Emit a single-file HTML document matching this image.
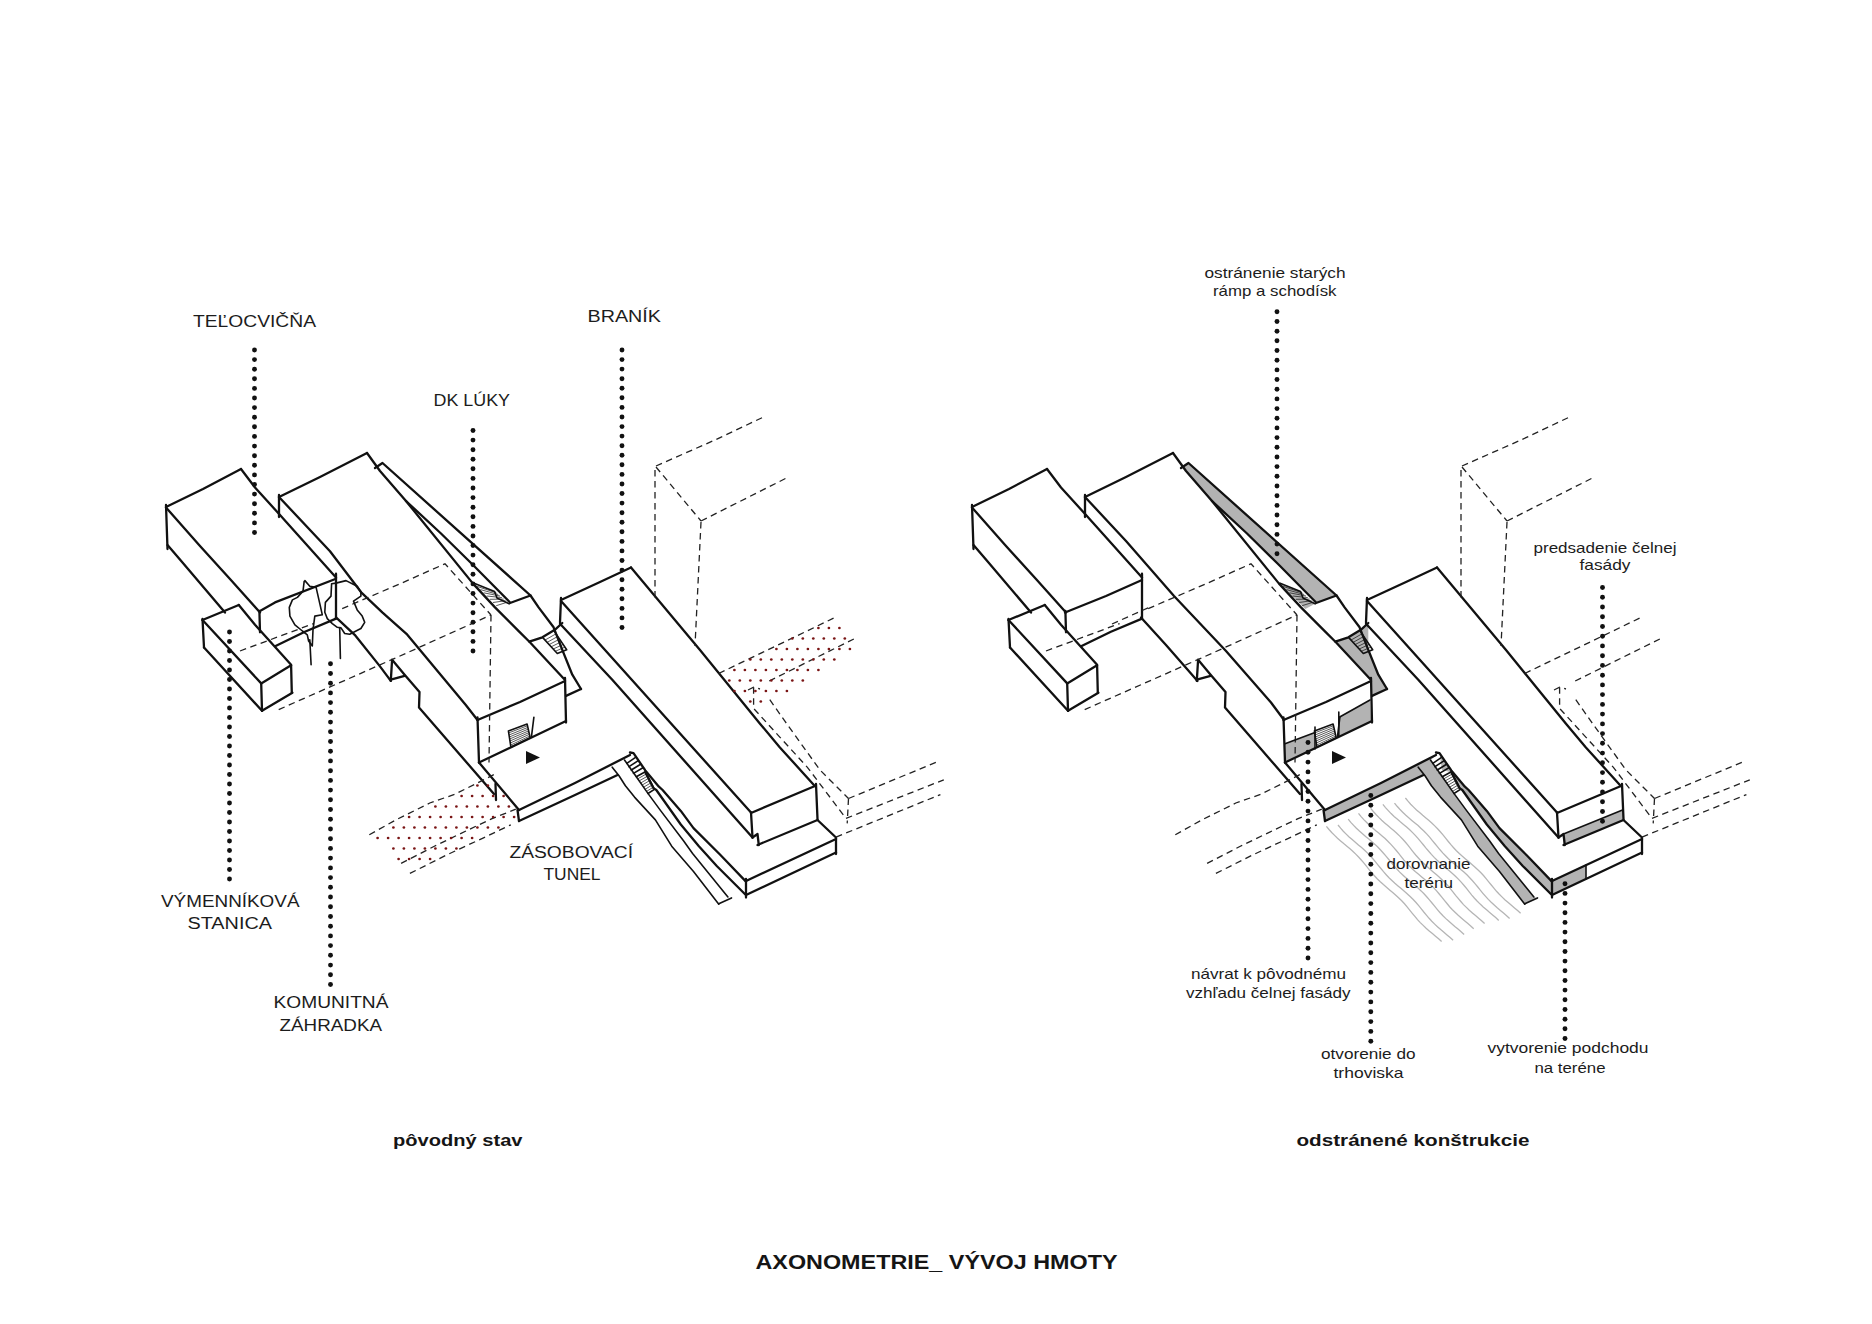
<!DOCTYPE html>
<html><head><meta charset="utf-8"><style>
html,body{margin:0;padding:0;background:#fff;}
body{width:1872px;height:1324px;overflow:hidden;}
svg{display:block;}
.s{fill:none;stroke:#111;stroke-width:2.3;stroke-linecap:round;stroke-linejoin:round;}
.s2{fill:none;stroke:#111;stroke-width:1.6;stroke-linecap:round;stroke-linejoin:round;}
.dsh{fill:none;stroke:#222;stroke-width:1.3;stroke-dasharray:6.5 4.5;}
.h{fill:none;stroke:#111;stroke-width:0.7;}
.g{fill:#b3b3b3;stroke:none;}
.wv{fill:none;stroke:#b5b5b5;stroke-width:1.3;}
.d circle{fill:#111;}
.rd circle{fill:#7a1515;}
.t{font-family:"Liberation Sans",sans-serif;fill:#1c1c1c;}
.tb{font-family:"Liberation Sans",sans-serif;font-weight:bold;fill:#151515;}
.tri{fill:#111;}
</style></head><body>
<svg width="1872" height="1324" viewBox="0 0 1872 1324">
<polyline class="s" points="166.0,507.0 203.0,489.0 241.0,469.0"/>
<polyline class="s" points="241.0,469.0 255.0,487.5 280.0,515.0 336.0,577.5"/>
<polyline class="s" points="166.0,505.0 167.5,549.0"/>
<polyline class="s" points="166.0,507.5 200.0,546.0 230.0,579.0 260.0,612.5"/>
<polyline class="s" points="167.5,545.0 182.5,562.5 225.0,612.5"/>
<polyline class="s" points="260.0,611.0 275.0,602.4 336.0,578.7"/>
<polyline class="s" points="336.0,573.7 336.0,618.6"/>
<polyline class="s" points="259.4,611.0 260.0,632.3"/>
<polyline class="s" points="275.6,646.0 304.9,631.7 336.0,618.6"/>
<polyline class="s" points="202.5,620.0 238.8,605.0"/>
<polyline class="s" points="238.8,605.0 255.0,624.8 291.1,664.7"/>
<polyline class="s" points="202.5,619.0 204.0,647.5"/>
<polyline class="s" points="202.5,620.0 261.2,683.4"/>
<polyline class="s" points="204.0,647.5 262.0,710.8"/>
<polyline class="s" points="261.2,683.4 262.0,710.8"/>
<polyline class="s" points="261.2,683.4 291.1,665.3"/>
<polyline class="s" points="291.1,665.3 291.8,692.7"/>
<polyline class="s" points="262.0,710.8 292.4,692.7"/>
<polyline class="s" points="279.0,497.0 320.0,477.0 367.0,453.0"/>
<polyline class="s" points="279.0,495.0 279.0,517.0"/>
<polyline class="s" points="279.0,497.0 330.0,551.2 361.2,592.3 382.3,612.3 407.3,634.7 465.8,705.0 477.5,720.0"/>
<polyline class="s" points="336.0,617.3 354.7,634.8 379.6,665.9 390.8,680.9"/>
<polyline class="s" points="390.8,680.9 392.1,659.7 404.6,674.7 419.5,692.1 419.0,707.5 494.0,794.0"/>
<polyline class="s" points="495.5,784.0 496.0,800.0"/>
<polyline class="s" points="390.8,679.6 404.6,675.9"/>
<polyline class="s" points="367.0,453.0 380.0,471.0 406.0,501.0 472.8,583.4 495.0,607.4 518.7,631.1 529.9,642.3 564.8,679.7"/>
<polyline class="s" points="375.0,468.0 382.5,463.0 530.5,595.5 538.6,607.4 553.6,627.3 562.3,649.8 572.3,674.7 581.0,689.0"/>
<polyline class="s" points="406.0,501.0 441.0,533.5 472.8,564.7 509.6,602.0"/>
<polyline class="s" points="510.0,603.0 530.5,595.5"/>
<polyline class="s" points="529.3,641.7 542.4,637.3 554.8,629.8 562.3,623.0"/>
<polyline class="s" points="566.0,695.9 581.0,689.0"/>
<polyline class="s" points="477.5,720.0 520.0,702.0 565.0,681.0"/>
<polyline class="s" points="477.5,717.5 479.0,762.5"/>
<polyline class="s" points="565.0,678.0 566.0,722.5"/>
<polyline class="s" points="479.0,762.5 520.0,743.0 566.0,721.0"/>
<polyline class="s2" points="510.9,747.1 508.4,730.9 527.1,724.0 530.2,737.7 510.9,747.1"/>
<polyline class="s2" points="533.9,717.2 531.4,737.1"/>
<path class="h" d="M508.7 732.9L527.5 725.7M509.0 735.0L527.9 727.4M509.3 737.0L528.3 729.1M509.6 739.0L528.7 730.9M510.0 741.0L529.0 732.6M510.3 743.0L529.4 734.3M510.6 745.1L529.8 736.0"/>
<polygon class="tri" points="526.0,751.0 526.0,764.0 540.0,757.5"/>
<polyline class="s" points="479.0,762.5 519.0,810.0"/>
<polyline class="s" points="519.0,810.0 575.0,783.0 630.0,755.0"/>
<polyline class="s" points="519.0,821.0 575.0,795.0 617.5,775.0"/>
<polyline class="s" points="517.5,810.0 519.0,821.0"/>
<path class="h" d="M477.2 586.4L496.4 592.9M480.4 589.6L498.2 594.5M483.6 592.8L500.0 596.0M486.7 596.0L501.9 597.6M489.9 599.3L503.7 599.1M493.0 602.5L505.5 600.7M496.2 605.7L507.3 602.2"/>
<polyline class="s2" points="474.1,583.2 494.6,591.4 497.0,598.0 509.1,603.8"/>
<path class="h" d="M545.0 640.1L556.0 633.8M547.1 642.4L557.8 636.4M549.1 644.6L559.6 639.1M551.2 646.8L561.3 641.8M553.2 649.0L563.1 644.5M555.3 651.3L564.9 647.1"/>
<polyline class="s2" points="543.0,637.9 557.3,653.5 566.7,649.8 554.2,631.1"/>
<polyline class="s" points="561.0,600.0 600.0,582.0 631.0,567.5"/>
<polyline class="s" points="561.0,598.0 560.0,622.5"/>
<polyline class="s" points="631.0,567.5 700.0,650.0 760.0,723.7 779.9,747.4 814.8,786.0"/>
<polyline class="s" points="561.0,601.0 751.0,812.5"/>
<polyline class="s" points="560.0,623.8 612.5,680.0 752.5,837.5"/>
<polyline class="s" points="751.0,813.0 815.0,786.0"/>
<polyline class="s" points="751.0,812.5 752.5,837.5"/>
<polyline class="s" points="816.0,784.0 817.5,819.0"/>
<polyline class="s" points="757.5,845.0 817.5,820.0"/>
<polyline class="s" points="752.5,837.5 757.5,834.0 758.8,845.0"/>
<polyline class="s" points="817.5,820.0 836.0,837.5 836.0,854.0"/>
<polyline class="s" points="746.0,881.0 836.0,839.0"/>
<polyline class="s" points="746.0,895.0 836.0,852.5"/>
<polyline class="s" points="746.0,879.0 746.0,897.5"/>
<polyline class="s" points="630.0,752.5 633.5,753.2 645.3,770.4 658.9,786.7 662.6,790.0 680.8,810.9 693.5,828.1 720.7,855.3 746.0,881.6"/>
<polyline class="s2" points="612.2,767.2 619.0,775.8 625.4,785.8 634.5,797.1 655.4,819.9 671.7,846.2 693.5,871.6 718.8,904.2"/>
<polyline class="s2" points="624.5,760.0 636.3,776.7 648.1,793.6 660.8,810.9 683.5,840.8 692.6,853.5 727.9,897.0"/>
<polyline class="s2" points="718.8,903.8 731.5,897.9"/>
<polyline class="s" points="645.3,772.2 653.5,788.1 656.3,790.0 680.8,824.5 698.9,846.2 717.0,866.2 745.1,894.3"/>
<path class="s2" d="M626.8 763.3L635.9 757.1M629.0 766.7L638.2 760.7M631.3 770.0L640.6 764.2M633.5 773.4L642.9 767.8"/>
<path class="h" d="M637.8 778.8L646.4 773.9M639.2 780.9L647.6 776.1M640.7 783.0L648.7 778.3M642.1 785.1L649.8 780.5M643.6 787.2L651.0 782.8M645.1 789.3L652.1 785.0M646.5 791.4L653.3 787.2"/>
<polyline class="s2" points="636.3,776.7 645.3,771.7 654.4,789.4 648.0,793.5"/>
<polyline class="dsh" points="240.0,651.0 313.6,623.6"/>
<polyline class="dsh" points="342.2,608.6 400.0,583.8 445.0,563.8 491.0,615.0"/>
<polyline class="dsh" points="278.7,709.6 400.0,656.0 491.0,615.0"/>
<polyline class="dsh" points="491.0,615.0 489.0,762.5"/>
<polyline class="dsh" points="656.0,466.0 715.0,440.0 762.5,417.5"/>
<polyline class="dsh" points="656.0,467.0 701.0,521.0"/>
<polyline class="dsh" points="701.0,521.0 787.5,477.5"/>
<polyline class="dsh" points="655.0,470.0 655.0,600.0"/>
<polyline class="dsh" points="701.0,522.0 695.0,646.0"/>
<polyline class="dsh" points="718.7,673.5 835.2,617.4"/>
<polyline class="dsh" points="769.2,681.0 855.8,638.0"/>
<polyline class="dsh" points="748.0,690.0 753.6,687.2 760.0,689.0"/>
<polyline class="dsh" points="753.6,687.2 753.6,708.4 779.8,737.1 807.4,767.3 846.0,818.4"/>
<polyline class="dsh" points="769.8,699.7 784.7,720.9 819.8,769.8 848.5,798.5"/>
<polyline class="dsh" points="848.5,798.5 938.5,761.3"/>
<polyline class="dsh" points="848.5,798.5 847.2,823.4"/>
<polyline class="dsh" points="846.0,818.4 943.8,779.8"/>
<polyline class="dsh" points="836.0,837.1 940.4,794.6"/>
<polyline class="dsh" points="369.3,834.8 396.1,819.8 429.8,803.0 454.7,794.3 490.9,776.2 497.0,773.0"/>
<polyline class="dsh" points="401.1,863.4 434.8,846.0 468.4,829.8 492.1,818.6 515.8,809.2"/>
<polyline class="dsh" points="409.9,873.4 447.2,854.7 484.6,837.3 510.8,824.8"/>
<polyline class="s2" points="304.2,581.2 303.0,591.2 297.4,597.4 292.4,599.9 289.3,607.4 289.9,616.1 294.9,624.8 302.4,631.0 307.3,634.8 308.6,641.0 312.3,646.0 313.0,629.8 314.8,616.1 322.3,614.8 319.8,603.6 316.1,587.4 309.8,586.2 304.9,580.6"/>
<polyline class="s2" points="309.8,639.8 311.1,664.7"/>
<polyline class="s2" points="331.6,583.7 331.0,596.1 325.4,602.4 324.8,612.3 327.3,618.6 332.3,623.6 337.3,627.3 341.0,627.9 344.7,633.5 349.7,634.2 360.9,628.5 364.7,622.3 362.2,616.1 357.2,609.9 353.5,601.1 360.9,596.1 360.9,592.4 357.2,586.2 346.0,580.6 336.0,583.1 331.6,583.7"/>
<polyline class="s2" points="339.7,627.9 340.4,658.5"/>
<g class="rd"><circle cx="818.4" cy="628.0" r="1.35"/><circle cx="828.9" cy="628.0" r="1.35"/><circle cx="839.4" cy="628.0" r="1.35"/><circle cx="792.3" cy="638.5" r="1.35"/><circle cx="802.8" cy="638.5" r="1.35"/><circle cx="813.3" cy="638.5" r="1.35"/><circle cx="823.8" cy="638.5" r="1.35"/><circle cx="834.3" cy="638.5" r="1.35"/><circle cx="844.8" cy="638.5" r="1.35"/><circle cx="776.4" cy="649.0" r="1.35"/><circle cx="786.9" cy="649.0" r="1.35"/><circle cx="797.4" cy="649.0" r="1.35"/><circle cx="807.9" cy="649.0" r="1.35"/><circle cx="818.4" cy="649.0" r="1.35"/><circle cx="828.9" cy="649.0" r="1.35"/><circle cx="839.4" cy="649.0" r="1.35"/><circle cx="849.9" cy="649.0" r="1.35"/><circle cx="750.3" cy="659.5" r="1.35"/><circle cx="760.8" cy="659.5" r="1.35"/><circle cx="771.3" cy="659.5" r="1.35"/><circle cx="781.8" cy="659.5" r="1.35"/><circle cx="792.3" cy="659.5" r="1.35"/><circle cx="802.8" cy="659.5" r="1.35"/><circle cx="813.3" cy="659.5" r="1.35"/><circle cx="823.8" cy="659.5" r="1.35"/><circle cx="834.3" cy="659.5" r="1.35"/><circle cx="734.4" cy="670.0" r="1.35"/><circle cx="744.9" cy="670.0" r="1.35"/><circle cx="755.4" cy="670.0" r="1.35"/><circle cx="765.9" cy="670.0" r="1.35"/><circle cx="776.4" cy="670.0" r="1.35"/><circle cx="786.9" cy="670.0" r="1.35"/><circle cx="797.4" cy="670.0" r="1.35"/><circle cx="807.9" cy="670.0" r="1.35"/><circle cx="818.4" cy="670.0" r="1.35"/><circle cx="729.3" cy="680.5" r="1.35"/><circle cx="739.8" cy="680.5" r="1.35"/><circle cx="750.3" cy="680.5" r="1.35"/><circle cx="760.8" cy="680.5" r="1.35"/><circle cx="771.3" cy="680.5" r="1.35"/><circle cx="781.8" cy="680.5" r="1.35"/><circle cx="792.3" cy="680.5" r="1.35"/><circle cx="802.8" cy="680.5" r="1.35"/><circle cx="734.4" cy="691.0" r="1.35"/><circle cx="744.9" cy="691.0" r="1.35"/><circle cx="755.4" cy="691.0" r="1.35"/><circle cx="765.9" cy="691.0" r="1.35"/><circle cx="776.4" cy="691.0" r="1.35"/><circle cx="786.9" cy="691.0" r="1.35"/><circle cx="750.3" cy="701.5" r="1.35"/><circle cx="760.8" cy="701.5" r="1.35"/></g>
<g class="rd"><circle cx="477.4" cy="785.5" r="1.35"/><circle cx="487.9" cy="785.5" r="1.35"/><circle cx="461.6" cy="796.0" r="1.35"/><circle cx="472.1" cy="796.0" r="1.35"/><circle cx="482.6" cy="796.0" r="1.35"/><circle cx="493.1" cy="796.0" r="1.35"/><circle cx="503.6" cy="796.0" r="1.35"/><circle cx="435.4" cy="806.5" r="1.35"/><circle cx="445.9" cy="806.5" r="1.35"/><circle cx="456.4" cy="806.5" r="1.35"/><circle cx="466.9" cy="806.5" r="1.35"/><circle cx="477.4" cy="806.5" r="1.35"/><circle cx="487.9" cy="806.5" r="1.35"/><circle cx="498.4" cy="806.5" r="1.35"/><circle cx="508.9" cy="806.5" r="1.35"/><circle cx="409.1" cy="817.0" r="1.35"/><circle cx="419.6" cy="817.0" r="1.35"/><circle cx="430.1" cy="817.0" r="1.35"/><circle cx="440.6" cy="817.0" r="1.35"/><circle cx="451.1" cy="817.0" r="1.35"/><circle cx="461.6" cy="817.0" r="1.35"/><circle cx="472.1" cy="817.0" r="1.35"/><circle cx="482.6" cy="817.0" r="1.35"/><circle cx="493.1" cy="817.0" r="1.35"/><circle cx="503.6" cy="817.0" r="1.35"/><circle cx="514.1" cy="817.0" r="1.35"/><circle cx="393.4" cy="827.5" r="1.35"/><circle cx="403.9" cy="827.5" r="1.35"/><circle cx="414.4" cy="827.5" r="1.35"/><circle cx="424.9" cy="827.5" r="1.35"/><circle cx="435.4" cy="827.5" r="1.35"/><circle cx="445.9" cy="827.5" r="1.35"/><circle cx="456.4" cy="827.5" r="1.35"/><circle cx="466.9" cy="827.5" r="1.35"/><circle cx="477.4" cy="827.5" r="1.35"/><circle cx="487.9" cy="827.5" r="1.35"/><circle cx="498.4" cy="827.5" r="1.35"/><circle cx="377.6" cy="838.0" r="1.35"/><circle cx="388.1" cy="838.0" r="1.35"/><circle cx="398.6" cy="838.0" r="1.35"/><circle cx="409.1" cy="838.0" r="1.35"/><circle cx="419.6" cy="838.0" r="1.35"/><circle cx="430.1" cy="838.0" r="1.35"/><circle cx="440.6" cy="838.0" r="1.35"/><circle cx="451.1" cy="838.0" r="1.35"/><circle cx="461.6" cy="838.0" r="1.35"/><circle cx="472.1" cy="838.0" r="1.35"/><circle cx="393.4" cy="848.5" r="1.35"/><circle cx="403.9" cy="848.5" r="1.35"/><circle cx="414.4" cy="848.5" r="1.35"/><circle cx="424.9" cy="848.5" r="1.35"/><circle cx="435.4" cy="848.5" r="1.35"/><circle cx="445.9" cy="848.5" r="1.35"/><circle cx="456.4" cy="848.5" r="1.35"/><circle cx="398.6" cy="859.0" r="1.35"/><circle cx="409.1" cy="859.0" r="1.35"/><circle cx="419.6" cy="859.0" r="1.35"/><circle cx="430.1" cy="859.0" r="1.35"/></g>
<polygon class="g" points="1183.0,466.0 1188.5,463.0 1336.5,595.5 1316.0,603.0 1278.8,564.7 1247.0,533.5 1212.0,501.0 1186.0,471.0"/>
<polygon class="g" points="1280.1,583.2 1300.6,591.4 1303.0,598.0 1315.1,603.8 1305.3,608.9"/>
<polygon class="g" points="1335.3,641.7 1348.4,637.3 1360.8,629.8 1368.3,623.0 1368.3,649.8 1378.3,674.7 1387.0,689.0 1372.0,695.9 1371.0,681.0 1335.9,642.3"/>
<polygon class="g" points="1285.0,743.8 1315.0,732.5 1315.0,748.8 1285.0,762.5"/>
<polygon class="g" points="1338.8,717.5 1370.0,700.0 1371.2,721.2 1338.8,736.2"/>
<polygon class="g" points="1324.0,810.0 1381.0,783.0 1436.0,755.0 1430.5,760.0 1423.5,775.0 1381.0,795.0 1325.0,821.0"/>
<polygon class="g" points="1418.2,767.2 1425.0,775.8 1431.4,785.8 1440.5,797.1 1461.4,819.9 1477.7,846.2 1499.5,871.6 1524.8,904.2 1537.5,897.9 1533.9,897.0 1498.6,853.5 1489.5,840.8 1466.8,810.9 1454.1,793.6 1442.3,776.7 1430.5,760.0 1436.0,755.0"/>
<polygon class="g" points="1439.5,753.2 1451.3,770.4 1464.9,786.7 1468.6,790.0 1486.8,810.9 1499.5,828.1 1526.7,855.3 1552.0,881.6 1551.1,894.3 1523.0,866.2 1504.9,846.2 1486.8,824.5 1462.3,790.0 1459.5,788.1 1451.3,772.2 1442.0,770.0"/>
<polygon class="g" points="1563.5,834.0 1622.5,810.0 1623.5,820.0 1563.5,845.0"/>
<polygon class="g" points="1552.0,881.0 1586.0,865.1 1586.0,879.0 1552.0,895.0"/>
<polyline class="s" points="972.0,507.0 1009.0,489.0 1047.0,469.0"/>
<polyline class="s" points="1047.0,469.0 1061.0,487.5 1086.0,515.0 1142.0,577.5"/>
<polyline class="s" points="972.0,505.0 973.5,549.0"/>
<polyline class="s" points="972.0,507.5 1006.0,546.0 1036.0,579.0 1066.0,612.5"/>
<polyline class="s" points="973.5,545.0 988.5,562.5 1031.0,612.5"/>
<polyline class="s" points="1065.0,612.5 1106.0,596.0 1142.0,580.0"/>
<polyline class="s" points="1142.0,573.7 1142.0,618.6"/>
<polyline class="s" points="1065.4,611.0 1066.0,632.3"/>
<polyline class="s" points="1081.6,646.0 1110.9,631.7 1142.0,618.6"/>
<polyline class="s" points="1008.5,620.0 1044.8,605.0"/>
<polyline class="s" points="1044.8,605.0 1061.0,624.8 1097.1,664.7"/>
<polyline class="s" points="1008.5,619.0 1010.0,647.5"/>
<polyline class="s" points="1008.5,620.0 1067.2,683.4"/>
<polyline class="s" points="1010.0,647.5 1068.0,710.8"/>
<polyline class="s" points="1067.2,683.4 1068.0,710.8"/>
<polyline class="s" points="1067.2,683.4 1097.1,665.3"/>
<polyline class="s" points="1097.1,665.3 1097.8,692.7"/>
<polyline class="s" points="1068.0,710.8 1098.4,692.7"/>
<polyline class="s" points="1085.0,497.0 1126.0,477.0 1173.0,453.0"/>
<polyline class="s" points="1085.0,495.0 1085.0,517.0"/>
<polyline class="s" points="1085.0,497.0 1126.0,541.0 1174.0,596.0 1226.0,651.0 1271.0,702.5 1284.0,720.0"/>
<polyline class="s" points="1141.0,617.5 1166.0,645.0 1197.5,681.0"/>
<polyline class="s" points="1196.8,680.9 1198.1,659.7 1210.6,674.7 1225.5,692.1 1225.0,707.5 1300.0,794.0"/>
<polyline class="s" points="1301.5,784.0 1302.0,800.0"/>
<polyline class="s" points="1196.8,679.6 1210.6,675.9"/>
<polyline class="s" points="1173.0,453.0 1186.0,471.0 1212.0,501.0 1278.8,583.4 1301.0,607.4 1324.7,631.1 1335.9,642.3 1370.8,679.7"/>
<polyline class="s" points="1181.0,468.0 1188.5,463.0 1336.5,595.5 1344.6,607.4 1359.6,627.3 1368.3,649.8 1378.3,674.7 1387.0,689.0"/>
<polyline class="s" points="1212.0,501.0 1247.0,533.5 1278.8,564.7 1315.6,602.0"/>
<polyline class="s" points="1316.0,603.0 1336.5,595.5"/>
<polyline class="s" points="1335.3,641.7 1348.4,637.3 1360.8,629.8 1368.3,623.0"/>
<polyline class="s" points="1372.0,695.9 1387.0,689.0"/>
<polyline class="s" points="1283.5,720.0 1326.0,702.0 1371.0,681.0"/>
<polyline class="s" points="1283.5,717.5 1285.0,762.5"/>
<polyline class="s" points="1371.0,678.0 1372.0,722.5"/>
<polyline class="s" points="1285.0,762.5 1326.0,743.0 1372.0,721.0"/>
<polyline class="s2" points="1316.9,747.1 1314.4,730.9 1333.1,724.0 1336.2,737.7 1316.9,747.1"/>
<polyline class="s2" points="1339.9,717.2 1337.4,737.1"/>
<path class="h" d="M1314.7 732.9L1333.5 725.7M1315.0 735.0L1333.9 727.4M1315.3 737.0L1334.3 729.1M1315.7 739.0L1334.6 730.9M1316.0 741.0L1335.0 732.6M1316.3 743.0L1335.4 734.3M1316.6 745.1L1335.8 736.0"/>
<polygon class="tri" points="1332.0,751.0 1332.0,764.0 1346.0,757.5"/>
<polyline class="s" points="1285.0,762.5 1325.0,810.0"/>
<polyline class="s" points="1325.0,810.0 1381.0,783.0 1436.0,755.0"/>
<polyline class="s" points="1325.0,821.0 1381.0,795.0 1423.5,775.0"/>
<polyline class="s" points="1323.5,810.0 1325.0,821.0"/>
<path class="h" d="M1283.2 586.4L1302.4 592.9M1286.4 589.6L1304.2 594.5M1289.5 592.8L1306.0 596.0M1292.7 596.0L1307.8 597.6M1295.8 599.3L1309.7 599.1M1299.0 602.5L1311.5 600.7M1302.1 605.7L1313.3 602.2"/>
<polyline class="s2" points="1280.1,583.2 1300.6,591.4 1303.0,598.0 1315.1,603.8"/>
<path class="h" d="M1351.0 640.1L1362.0 633.8M1353.1 642.4L1363.8 636.4M1355.1 644.6L1365.6 639.1M1357.2 646.8L1367.3 641.8M1359.2 649.0L1369.1 644.5M1361.3 651.3L1370.9 647.1"/>
<polyline class="s2" points="1349.0,637.9 1363.3,653.5 1372.7,649.8 1360.2,631.1"/>
<polyline class="s" points="1367.0,600.0 1406.0,582.0 1437.0,567.5"/>
<polyline class="s" points="1367.0,598.0 1366.0,622.5"/>
<polyline class="s" points="1437.0,567.5 1506.0,650.0 1566.0,723.7 1585.9,747.4 1620.8,786.0"/>
<polyline class="s" points="1367.0,601.0 1557.0,812.5"/>
<polyline class="s" points="1366.0,623.8 1418.5,680.0 1558.5,837.5"/>
<polyline class="s" points="1557.0,813.0 1621.0,786.0"/>
<polyline class="s" points="1557.0,812.5 1558.5,837.5"/>
<polyline class="s" points="1622.0,784.0 1623.5,819.0"/>
<polyline class="s" points="1563.5,845.0 1623.5,820.0"/>
<polyline class="s" points="1558.5,837.5 1563.5,834.0 1564.8,845.0"/>
<polyline class="s" points="1623.5,820.0 1642.0,837.5 1642.0,854.0"/>
<polyline class="s" points="1552.0,881.0 1642.0,839.0"/>
<polyline class="s" points="1552.0,895.0 1642.0,852.5"/>
<polyline class="s" points="1552.0,879.0 1552.0,897.5"/>
<polyline class="s" points="1436.0,752.5 1439.5,753.2 1451.3,770.4 1464.9,786.7 1468.6,790.0 1486.8,810.9 1499.5,828.1 1526.7,855.3 1552.0,881.6"/>
<polyline class="s2" points="1418.2,767.2 1425.0,775.8 1431.4,785.8 1440.5,797.1 1461.4,819.9 1477.7,846.2 1499.5,871.6 1524.8,904.2"/>
<polyline class="s2" points="1430.5,760.0 1442.3,776.7 1454.1,793.6 1466.8,810.9 1489.5,840.8 1498.6,853.5 1533.9,897.0"/>
<polyline class="s2" points="1524.8,903.8 1537.5,897.9"/>
<polyline class="s" points="1451.3,772.2 1459.5,788.1 1462.3,790.0 1486.8,824.5 1504.9,846.2 1523.0,866.2 1551.1,894.3"/>
<path class="s2" d="M1432.8 763.3L1441.9 757.1M1435.0 766.7L1444.2 760.7M1437.3 770.0L1446.6 764.2M1439.5 773.4L1448.9 767.8"/>
<path class="h" d="M1443.8 778.8L1452.4 773.9M1445.2 780.9L1453.6 776.1M1446.7 783.0L1454.7 778.3M1448.2 785.1L1455.8 780.5M1449.6 787.2L1457.0 782.8M1451.1 789.3L1458.1 785.0M1452.5 791.4L1459.3 787.2"/>
<polyline class="s2" points="1442.3,776.7 1451.3,771.7 1460.4,789.4 1454.0,793.5"/>
<polyline class="dsh" points="1046.0,651.0 1119.6,623.6"/>
<polyline class="dsh" points="1148.2,608.6 1206.0,583.8 1251.0,563.8 1297.0,615.0"/>
<polyline class="dsh" points="1084.7,709.6 1206.0,656.0 1297.0,615.0"/>
<polyline class="dsh" points="1297.0,615.0 1295.0,762.5"/>
<polyline class="dsh" points="1462.0,466.0 1521.0,440.0 1568.5,417.5"/>
<polyline class="dsh" points="1462.0,467.0 1507.0,521.0"/>
<polyline class="dsh" points="1507.0,521.0 1593.5,477.5"/>
<polyline class="dsh" points="1461.0,470.0 1461.0,600.0"/>
<polyline class="dsh" points="1507.0,522.0 1501.0,646.0"/>
<polyline class="dsh" points="1524.7,673.5 1641.2,617.4"/>
<polyline class="dsh" points="1575.2,681.0 1661.8,638.0"/>
<polyline class="dsh" points="1554.0,690.0 1559.6,687.2 1566.0,689.0"/>
<polyline class="dsh" points="1559.6,687.2 1559.6,708.4 1585.8,737.1 1613.4,767.3 1652.0,818.4"/>
<polyline class="dsh" points="1575.8,699.7 1590.7,720.9 1625.8,769.8 1654.5,798.5"/>
<polyline class="dsh" points="1654.5,798.5 1744.5,761.3"/>
<polyline class="dsh" points="1654.5,798.5 1653.2,823.4"/>
<polyline class="dsh" points="1652.0,818.4 1749.8,779.8"/>
<polyline class="dsh" points="1642.0,837.1 1746.4,794.6"/>
<polyline class="dsh" points="1175.3,834.8 1202.1,819.8 1235.8,803.0 1260.7,794.3 1296.9,776.2 1303.0,773.0"/>
<polyline class="dsh" points="1207.1,863.4 1240.8,846.0 1274.4,829.8 1298.1,818.6 1321.8,809.2"/>
<polyline class="dsh" points="1215.9,873.4 1253.2,854.7 1290.6,837.3 1316.8,824.8"/>
<polyline class="s2" points="1285.0,743.8 1315.0,732.5"/>
<polyline class="s2" points="1315.0,727.0 1315.0,749.0"/>
<polyline class="s2" points="1338.8,717.5 1370.0,700.0"/>
<polyline class="s2" points="1338.8,712.0 1338.8,736.2"/>
<polyline class="s2" points="1563.5,834.0 1622.5,810.0"/>
<polyline class="s2" points="1586.0,865.0 1586.0,879.0"/>
<polyline class="dsh" points="1112.0,624.0 1150.0,607.0"/>
<polyline class="wv" points="1326.4,826.3 1329.0,829.5 1331.7,832.5 1334.6,835.4 1337.5,838.2 1340.6,840.9 1343.7,843.6 1346.9,846.2 1350.0,848.8 1353.0,851.5 1356.0,854.4 1358.8,857.3 1361.5,860.3 1364.2,863.4 1366.8,866.6 1369.3,869.8 1371.9,873.0 1374.6,876.0 1377.4,879.0 1380.3,881.8 1383.4,884.6 1386.5,887.2 1389.6,889.9 1392.7,892.5 1395.8,895.2 1398.8,898.0 1401.7,900.8 1404.5,903.8 1407.1,906.9 1409.7,910.1 1412.3,913.3 1414.9,916.4 1417.5,919.6 1420.3,922.6 1423.2,925.4 1426.1,928.2 1429.2,930.9 1432.4,933.6 1435.5,936.2 1438.6,938.8 1441.6,941.6"/>
<polyline class="wv" points="1338.0,825.0 1340.6,828.2 1343.3,831.2 1346.2,834.1 1349.1,836.9 1352.2,839.6 1355.3,842.3 1358.4,844.9 1361.6,847.5 1364.6,850.2 1367.6,853.1 1370.4,856.0 1373.1,859.0 1375.7,862.1 1378.3,865.3 1380.9,868.5 1383.5,871.7 1386.2,874.7 1389.0,877.7 1391.9,880.5 1394.9,883.3 1398.0,885.9 1401.2,888.6 1404.3,891.2 1407.4,893.9 1410.4,896.7 1413.2,899.5 1416.0,902.5 1418.7,905.6 1421.3,908.8 1423.8,912.0 1426.4,915.1 1429.1,918.3 1431.8,921.3 1434.7,924.1 1437.7,926.9 1440.7,929.6 1443.9,932.3 1447.0,934.9 1450.1,937.5 1453.1,940.3"/>
<polyline class="wv" points="1348.2,819.2 1350.8,822.4 1353.6,825.4 1356.4,828.3 1359.4,831.1 1362.5,833.8 1365.6,836.5 1368.8,839.1 1371.9,841.7 1375.0,844.4 1378.0,847.3 1380.8,850.2 1383.5,853.2 1386.2,856.3 1388.8,859.5 1391.4,862.7 1394.0,865.9 1396.7,868.9 1399.5,871.9 1402.5,874.7 1405.5,877.5 1408.6,880.1 1411.8,882.8 1414.9,885.4 1418.0,888.1 1421.1,890.9 1424.0,893.7 1426.7,896.7 1429.4,899.8 1432.0,903.0 1434.6,906.2 1437.2,909.3 1439.9,912.5 1442.7,915.5 1445.6,918.4 1448.6,921.1 1451.7,923.8 1454.8,926.5 1458.0,929.1 1461.1,931.7 1464.1,934.5"/>
<polyline class="wv" points="1358.5,813.4 1361.1,816.6 1363.8,819.6 1366.7,822.5 1369.6,825.3 1372.7,828.0 1375.8,830.7 1379.0,833.3 1382.1,835.9 1385.1,838.6 1388.1,841.5 1390.9,844.4 1393.6,847.4 1396.3,850.5 1398.9,853.7 1401.4,856.9 1404.0,860.1 1406.7,863.1 1409.5,866.1 1412.4,868.9 1415.5,871.7 1418.6,874.3 1421.7,877.0 1424.8,879.6 1427.9,882.3 1430.9,885.1 1433.8,887.9 1436.6,890.9 1439.2,894.0 1441.8,897.2 1444.4,900.4 1447.0,903.5 1449.6,906.7 1452.4,909.7 1455.3,912.5 1458.2,915.3 1461.3,918.0 1464.5,920.7 1467.6,923.3 1470.7,925.9 1473.7,928.7"/>
<polyline class="wv" points="1370.7,808.3 1373.3,811.5 1376.0,814.5 1378.8,817.4 1381.7,820.2 1384.7,822.9 1387.8,825.6 1390.9,828.2 1394.0,830.8 1397.0,833.5 1400.0,836.4 1402.8,839.3 1405.5,842.3 1408.1,845.4 1410.6,848.6 1413.1,851.8 1415.7,855.0 1418.4,858.0 1421.1,861.0 1424.0,863.8 1427.0,866.6 1430.1,869.2 1433.2,871.9 1436.3,874.5 1439.4,877.2 1442.3,880.0 1445.2,882.8 1447.9,885.8 1450.5,888.9 1453.1,892.1 1455.6,895.3 1458.2,898.4 1460.8,901.5 1463.5,904.6 1466.4,907.4 1469.3,910.2 1472.4,912.9 1475.5,915.6 1478.6,918.2 1481.6,920.8 1484.6,923.6"/>
<polyline class="wv" points="1382.9,804.4 1385.5,807.6 1388.3,810.6 1391.1,813.6 1394.1,816.4 1397.2,819.1 1400.3,821.8 1403.5,824.4 1406.6,827.1 1409.7,829.8 1412.6,832.6 1415.5,835.6 1418.2,838.6 1420.9,841.8 1423.5,845.0 1426.0,848.2 1428.7,851.3 1431.4,854.4 1434.2,857.4 1437.1,860.3 1440.2,863.0 1443.3,865.7 1446.4,868.4 1449.6,871.0 1452.7,873.7 1455.7,876.5 1458.6,879.4 1461.4,882.4 1464.1,885.5 1466.7,888.7 1469.2,891.9 1471.8,895.1 1474.5,898.2 1477.3,901.2 1480.2,904.1 1483.2,906.9 1486.3,909.6 1489.4,912.3 1492.6,914.9 1495.7,917.6 1498.7,920.4"/>
<polyline class="wv" points="1394.5,803.1 1397.1,806.3 1399.8,809.3 1402.7,812.2 1405.6,815.0 1408.7,817.7 1411.8,820.4 1414.9,823.0 1418.1,825.6 1421.1,828.4 1424.1,831.2 1426.9,834.1 1429.6,837.1 1432.2,840.3 1434.8,843.5 1437.4,846.6 1440.0,849.8 1442.7,852.9 1445.5,855.8 1448.4,858.7 1451.4,861.4 1454.5,864.1 1457.7,866.7 1460.8,869.4 1463.9,872.0 1466.9,874.8 1469.7,877.7 1472.5,880.7 1475.2,883.8 1477.8,887.0 1480.3,890.2 1482.9,893.3 1485.6,896.4 1488.3,899.4 1491.2,902.3 1494.2,905.1 1497.2,907.8 1500.4,910.4 1503.5,913.1 1506.6,915.7 1509.6,918.5"/>
<polyline class="wv" points="1405.4,798.0 1408.0,801.2 1410.7,804.2 1413.6,807.1 1416.5,809.9 1419.6,812.6 1422.7,815.3 1425.9,817.9 1429.0,820.5 1432.0,823.2 1435.0,826.1 1437.8,829.0 1440.5,832.0 1443.2,835.1 1445.8,838.3 1448.3,841.5 1450.9,844.7 1453.6,847.7 1456.4,850.7 1459.3,853.5 1462.4,856.3 1465.5,858.9 1468.6,861.6 1471.7,864.2 1474.8,866.9 1477.8,869.7 1480.7,872.5 1483.5,875.5 1486.1,878.6 1488.7,881.8 1491.3,885.0 1493.9,888.1 1496.5,891.3 1499.3,894.3 1502.2,897.1 1505.1,899.9 1508.2,902.6 1511.4,905.3 1514.5,907.9 1517.6,910.5 1520.6,913.3"/>
<text class="t" x="193.0" y="327.0" font-size="17.2" textLength="123.0" lengthAdjust="spacingAndGlyphs">TEĽOCVIČŇA</text>
<text class="t" x="433.5" y="405.5" font-size="17.2" textLength="76.5" lengthAdjust="spacingAndGlyphs">DK LÚKY</text>
<text class="t" x="587.5" y="322.0" font-size="17.2" textLength="73.5" lengthAdjust="spacingAndGlyphs">BRANÍK</text>
<text class="t" x="161.0" y="906.5" font-size="17.2" textLength="138.5" lengthAdjust="spacingAndGlyphs">VÝMENNÍKOVÁ</text>
<text class="t" x="187.5" y="929.0" font-size="17.2" textLength="84.5" lengthAdjust="spacingAndGlyphs">STANICA</text>
<text class="t" x="273.5" y="1008.0" font-size="17.2" textLength="115.0" lengthAdjust="spacingAndGlyphs">KOMUNITNÁ</text>
<text class="t" x="279.5" y="1030.6" font-size="17.2" textLength="102.5" lengthAdjust="spacingAndGlyphs">ZÁHRADKA</text>
<text class="t" x="509.5" y="858.3" font-size="17.2" textLength="123.5" lengthAdjust="spacingAndGlyphs">ZÁSOBOVACÍ</text>
<text class="t" x="543.5" y="880.0" font-size="17.2" textLength="57.0" lengthAdjust="spacingAndGlyphs">TUNEL</text>
<g class="d"><circle cx="254.5" cy="350.0" r="2.45"/><circle cx="254.5" cy="359.6" r="2.45"/><circle cx="254.5" cy="369.2" r="2.45"/><circle cx="254.5" cy="378.8" r="2.45"/><circle cx="254.5" cy="388.4" r="2.45"/><circle cx="254.5" cy="398.0" r="2.45"/><circle cx="254.5" cy="407.6" r="2.45"/><circle cx="254.5" cy="417.2" r="2.45"/><circle cx="254.5" cy="426.8" r="2.45"/><circle cx="254.5" cy="436.4" r="2.45"/><circle cx="254.5" cy="446.1" r="2.45"/><circle cx="254.5" cy="455.7" r="2.45"/><circle cx="254.5" cy="465.3" r="2.45"/><circle cx="254.5" cy="474.9" r="2.45"/><circle cx="254.5" cy="484.5" r="2.45"/><circle cx="254.5" cy="494.1" r="2.45"/><circle cx="254.5" cy="503.7" r="2.45"/><circle cx="254.5" cy="513.3" r="2.45"/><circle cx="254.5" cy="522.9" r="2.45"/><circle cx="254.5" cy="532.5" r="2.45"/></g>
<g class="d"><circle cx="473.0" cy="430.5" r="2.45"/><circle cx="473.0" cy="440.1" r="2.45"/><circle cx="473.0" cy="449.7" r="2.45"/><circle cx="473.0" cy="459.3" r="2.45"/><circle cx="473.0" cy="468.8" r="2.45"/><circle cx="473.0" cy="478.4" r="2.45"/><circle cx="473.0" cy="488.0" r="2.45"/><circle cx="473.0" cy="497.6" r="2.45"/><circle cx="473.0" cy="507.2" r="2.45"/><circle cx="473.0" cy="516.8" r="2.45"/><circle cx="473.0" cy="526.4" r="2.45"/><circle cx="473.0" cy="536.0" r="2.45"/><circle cx="473.0" cy="545.5" r="2.45"/><circle cx="473.0" cy="555.1" r="2.45"/><circle cx="473.0" cy="564.7" r="2.45"/><circle cx="473.0" cy="574.3" r="2.45"/><circle cx="473.0" cy="583.9" r="2.45"/><circle cx="473.0" cy="593.5" r="2.45"/><circle cx="473.0" cy="603.1" r="2.45"/><circle cx="473.0" cy="612.7" r="2.45"/><circle cx="473.0" cy="622.2" r="2.45"/><circle cx="473.0" cy="631.8" r="2.45"/><circle cx="473.0" cy="641.4" r="2.45"/><circle cx="473.0" cy="651.0" r="2.45"/></g>
<g class="d"><circle cx="622.0" cy="350.0" r="2.45"/><circle cx="622.0" cy="359.6" r="2.45"/><circle cx="622.0" cy="369.1" r="2.45"/><circle cx="622.0" cy="378.7" r="2.45"/><circle cx="622.0" cy="388.3" r="2.45"/><circle cx="622.0" cy="397.8" r="2.45"/><circle cx="622.0" cy="407.4" r="2.45"/><circle cx="622.0" cy="417.0" r="2.45"/><circle cx="622.0" cy="426.6" r="2.45"/><circle cx="622.0" cy="436.1" r="2.45"/><circle cx="622.0" cy="445.7" r="2.45"/><circle cx="622.0" cy="455.3" r="2.45"/><circle cx="622.0" cy="464.8" r="2.45"/><circle cx="622.0" cy="474.4" r="2.45"/><circle cx="622.0" cy="484.0" r="2.45"/><circle cx="622.0" cy="493.5" r="2.45"/><circle cx="622.0" cy="503.1" r="2.45"/><circle cx="622.0" cy="512.7" r="2.45"/><circle cx="622.0" cy="522.2" r="2.45"/><circle cx="622.0" cy="531.8" r="2.45"/><circle cx="622.0" cy="541.4" r="2.45"/><circle cx="622.0" cy="550.9" r="2.45"/><circle cx="622.0" cy="560.5" r="2.45"/><circle cx="622.0" cy="570.1" r="2.45"/><circle cx="622.0" cy="579.7" r="2.45"/><circle cx="622.0" cy="589.2" r="2.45"/><circle cx="622.0" cy="598.8" r="2.45"/><circle cx="622.0" cy="608.4" r="2.45"/><circle cx="622.0" cy="617.9" r="2.45"/><circle cx="622.0" cy="627.5" r="2.45"/></g>
<g class="d"><circle cx="229.5" cy="632.0" r="2.45"/><circle cx="229.5" cy="641.5" r="2.45"/><circle cx="229.5" cy="651.0" r="2.45"/><circle cx="229.5" cy="660.5" r="2.45"/><circle cx="229.5" cy="670.0" r="2.45"/><circle cx="229.5" cy="679.5" r="2.45"/><circle cx="229.5" cy="689.0" r="2.45"/><circle cx="229.5" cy="698.5" r="2.45"/><circle cx="229.5" cy="708.0" r="2.45"/><circle cx="229.5" cy="717.5" r="2.45"/><circle cx="229.5" cy="727.0" r="2.45"/><circle cx="229.5" cy="736.5" r="2.45"/><circle cx="229.5" cy="746.0" r="2.45"/><circle cx="229.5" cy="755.5" r="2.45"/><circle cx="229.5" cy="765.0" r="2.45"/><circle cx="229.5" cy="774.5" r="2.45"/><circle cx="229.5" cy="784.0" r="2.45"/><circle cx="229.5" cy="793.5" r="2.45"/><circle cx="229.5" cy="803.0" r="2.45"/><circle cx="229.5" cy="812.5" r="2.45"/><circle cx="229.5" cy="822.0" r="2.45"/><circle cx="229.5" cy="831.5" r="2.45"/><circle cx="229.5" cy="841.0" r="2.45"/><circle cx="229.5" cy="850.5" r="2.45"/><circle cx="229.5" cy="860.0" r="2.45"/><circle cx="229.5" cy="869.5" r="2.45"/><circle cx="229.5" cy="879.0" r="2.45"/></g>
<g class="d"><circle cx="330.5" cy="663.8" r="2.45"/><circle cx="330.5" cy="673.5" r="2.45"/><circle cx="330.5" cy="683.2" r="2.45"/><circle cx="330.5" cy="692.9" r="2.45"/><circle cx="330.5" cy="702.6" r="2.45"/><circle cx="330.5" cy="712.3" r="2.45"/><circle cx="330.5" cy="722.1" r="2.45"/><circle cx="330.5" cy="731.8" r="2.45"/><circle cx="330.5" cy="741.5" r="2.45"/><circle cx="330.5" cy="751.2" r="2.45"/><circle cx="330.5" cy="760.9" r="2.45"/><circle cx="330.5" cy="770.7" r="2.45"/><circle cx="330.5" cy="780.4" r="2.45"/><circle cx="330.5" cy="790.1" r="2.45"/><circle cx="330.5" cy="799.8" r="2.45"/><circle cx="330.5" cy="809.5" r="2.45"/><circle cx="330.5" cy="819.3" r="2.45"/><circle cx="330.5" cy="829.0" r="2.45"/><circle cx="330.5" cy="838.7" r="2.45"/><circle cx="330.5" cy="848.4" r="2.45"/><circle cx="330.5" cy="858.1" r="2.45"/><circle cx="330.5" cy="867.9" r="2.45"/><circle cx="330.5" cy="877.6" r="2.45"/><circle cx="330.5" cy="887.3" r="2.45"/><circle cx="330.5" cy="897.0" r="2.45"/><circle cx="330.5" cy="906.7" r="2.45"/><circle cx="330.5" cy="916.5" r="2.45"/><circle cx="330.5" cy="926.2" r="2.45"/><circle cx="330.5" cy="935.9" r="2.45"/><circle cx="330.5" cy="945.6" r="2.45"/><circle cx="330.5" cy="955.3" r="2.45"/><circle cx="330.5" cy="965.1" r="2.45"/><circle cx="330.5" cy="974.8" r="2.45"/><circle cx="330.5" cy="984.5" r="2.45"/></g>
<text class="t" x="1204.5" y="277.6" font-size="15.0" textLength="141.0" lengthAdjust="spacingAndGlyphs">ostránenie starých</text>
<text class="t" x="1213.0" y="296.2" font-size="15.0" textLength="123.5" lengthAdjust="spacingAndGlyphs">rámp a schodísk</text>
<text class="t" x="1533.5" y="552.8" font-size="15.0" textLength="143.0" lengthAdjust="spacingAndGlyphs">predsadenie čelnej</text>
<text class="t" x="1579.5" y="570.0" font-size="15.0" textLength="51.0" lengthAdjust="spacingAndGlyphs">fasády</text>
<text class="t" x="1386.5" y="869.0" font-size="15.0" textLength="84.0" lengthAdjust="spacingAndGlyphs">dorovnanie</text>
<text class="t" x="1404.5" y="887.8" font-size="15.0" textLength="48.5" lengthAdjust="spacingAndGlyphs">terénu</text>
<text class="t" x="1191.0" y="978.5" font-size="15.0" textLength="155.0" lengthAdjust="spacingAndGlyphs">návrat k pôvodnému</text>
<text class="t" x="1186.0" y="997.8" font-size="15.0" textLength="164.5" lengthAdjust="spacingAndGlyphs">vzhľadu čelnej fasády</text>
<text class="t" x="1321.0" y="1059.0" font-size="15.0" textLength="94.5" lengthAdjust="spacingAndGlyphs">otvorenie do</text>
<text class="t" x="1333.5" y="1077.8" font-size="15.0" textLength="70.0" lengthAdjust="spacingAndGlyphs">trhoviska</text>
<text class="t" x="1487.5" y="1053.4" font-size="15.0" textLength="161.0" lengthAdjust="spacingAndGlyphs">vytvorenie podchodu</text>
<text class="t" x="1534.5" y="1072.7" font-size="15.0" textLength="71.0" lengthAdjust="spacingAndGlyphs">na teréne</text>
<g class="d"><circle cx="1277.0" cy="311.8" r="2.45"/><circle cx="1277.0" cy="321.5" r="2.45"/><circle cx="1277.0" cy="331.2" r="2.45"/><circle cx="1277.0" cy="340.8" r="2.45"/><circle cx="1277.0" cy="350.5" r="2.45"/><circle cx="1277.0" cy="360.2" r="2.45"/><circle cx="1277.0" cy="369.9" r="2.45"/><circle cx="1277.0" cy="379.5" r="2.45"/><circle cx="1277.0" cy="389.2" r="2.45"/><circle cx="1277.0" cy="398.9" r="2.45"/><circle cx="1277.0" cy="408.6" r="2.45"/><circle cx="1277.0" cy="418.3" r="2.45"/><circle cx="1277.0" cy="427.9" r="2.45"/><circle cx="1277.0" cy="437.6" r="2.45"/><circle cx="1277.0" cy="447.3" r="2.45"/><circle cx="1277.0" cy="457.0" r="2.45"/><circle cx="1277.0" cy="466.6" r="2.45"/><circle cx="1277.0" cy="476.3" r="2.45"/><circle cx="1277.0" cy="486.0" r="2.45"/><circle cx="1277.0" cy="495.7" r="2.45"/><circle cx="1277.0" cy="505.4" r="2.45"/><circle cx="1277.0" cy="515.0" r="2.45"/><circle cx="1277.0" cy="524.7" r="2.45"/><circle cx="1277.0" cy="534.4" r="2.45"/><circle cx="1277.0" cy="544.1" r="2.45"/><circle cx="1277.0" cy="553.8" r="2.45"/></g>
<g class="d"><circle cx="1602.5" cy="587.5" r="2.45"/><circle cx="1602.5" cy="597.2" r="2.45"/><circle cx="1602.5" cy="607.0" r="2.45"/><circle cx="1602.5" cy="616.7" r="2.45"/><circle cx="1602.5" cy="626.5" r="2.45"/><circle cx="1602.5" cy="636.2" r="2.45"/><circle cx="1602.5" cy="645.9" r="2.45"/><circle cx="1602.5" cy="655.7" r="2.45"/><circle cx="1602.5" cy="665.4" r="2.45"/><circle cx="1602.5" cy="675.2" r="2.45"/><circle cx="1602.5" cy="684.9" r="2.45"/><circle cx="1602.5" cy="694.6" r="2.45"/><circle cx="1602.5" cy="704.4" r="2.45"/><circle cx="1602.5" cy="714.1" r="2.45"/><circle cx="1602.5" cy="723.9" r="2.45"/><circle cx="1602.5" cy="733.6" r="2.45"/><circle cx="1602.5" cy="743.3" r="2.45"/><circle cx="1602.5" cy="753.1" r="2.45"/><circle cx="1602.5" cy="762.8" r="2.45"/><circle cx="1602.5" cy="772.6" r="2.45"/><circle cx="1602.5" cy="782.3" r="2.45"/><circle cx="1602.5" cy="792.0" r="2.45"/><circle cx="1602.5" cy="801.8" r="2.45"/><circle cx="1602.5" cy="811.5" r="2.45"/><circle cx="1602.5" cy="821.2" r="2.45"/></g>
<g class="d"><circle cx="1308.0" cy="742.5" r="2.45"/><circle cx="1308.0" cy="752.3" r="2.45"/><circle cx="1308.0" cy="762.1" r="2.45"/><circle cx="1308.0" cy="771.9" r="2.45"/><circle cx="1308.0" cy="781.7" r="2.45"/><circle cx="1308.0" cy="791.5" r="2.45"/><circle cx="1308.0" cy="801.3" r="2.45"/><circle cx="1308.0" cy="811.1" r="2.45"/><circle cx="1308.0" cy="820.9" r="2.45"/><circle cx="1308.0" cy="830.7" r="2.45"/><circle cx="1308.0" cy="840.5" r="2.45"/><circle cx="1308.0" cy="850.2" r="2.45"/><circle cx="1308.0" cy="860.0" r="2.45"/><circle cx="1308.0" cy="869.8" r="2.45"/><circle cx="1308.0" cy="879.6" r="2.45"/><circle cx="1308.0" cy="889.4" r="2.45"/><circle cx="1308.0" cy="899.2" r="2.45"/><circle cx="1308.0" cy="909.0" r="2.45"/><circle cx="1308.0" cy="918.8" r="2.45"/><circle cx="1308.0" cy="928.6" r="2.45"/><circle cx="1308.0" cy="938.4" r="2.45"/><circle cx="1308.0" cy="948.2" r="2.45"/><circle cx="1308.0" cy="958.0" r="2.45"/></g>
<g class="d"><circle cx="1370.8" cy="795.5" r="2.45"/><circle cx="1370.8" cy="805.3" r="2.45"/><circle cx="1370.8" cy="815.2" r="2.45"/><circle cx="1370.8" cy="825.0" r="2.45"/><circle cx="1370.8" cy="834.8" r="2.45"/><circle cx="1370.8" cy="844.6" r="2.45"/><circle cx="1370.8" cy="854.5" r="2.45"/><circle cx="1370.8" cy="864.3" r="2.45"/><circle cx="1370.8" cy="874.1" r="2.45"/><circle cx="1370.8" cy="884.0" r="2.45"/><circle cx="1370.8" cy="893.8" r="2.45"/><circle cx="1370.8" cy="903.6" r="2.45"/><circle cx="1370.8" cy="913.5" r="2.45"/><circle cx="1370.8" cy="923.3" r="2.45"/><circle cx="1370.8" cy="933.1" r="2.45"/><circle cx="1370.8" cy="943.0" r="2.45"/><circle cx="1370.8" cy="952.8" r="2.45"/><circle cx="1370.8" cy="962.6" r="2.45"/><circle cx="1370.8" cy="972.4" r="2.45"/><circle cx="1370.8" cy="982.3" r="2.45"/><circle cx="1370.8" cy="992.1" r="2.45"/><circle cx="1370.8" cy="1001.9" r="2.45"/><circle cx="1370.8" cy="1011.8" r="2.45"/><circle cx="1370.8" cy="1021.6" r="2.45"/><circle cx="1370.8" cy="1031.4" r="2.45"/><circle cx="1370.8" cy="1041.2" r="2.45"/></g>
<g class="d"><circle cx="1565.0" cy="883.8" r="2.45"/><circle cx="1565.0" cy="893.4" r="2.45"/><circle cx="1565.0" cy="903.1" r="2.45"/><circle cx="1565.0" cy="912.8" r="2.45"/><circle cx="1565.0" cy="922.4" r="2.45"/><circle cx="1565.0" cy="932.1" r="2.45"/><circle cx="1565.0" cy="941.8" r="2.45"/><circle cx="1565.0" cy="951.5" r="2.45"/><circle cx="1565.0" cy="961.1" r="2.45"/><circle cx="1565.0" cy="970.8" r="2.45"/><circle cx="1565.0" cy="980.5" r="2.45"/><circle cx="1565.0" cy="990.1" r="2.45"/><circle cx="1565.0" cy="999.8" r="2.45"/><circle cx="1565.0" cy="1009.5" r="2.45"/><circle cx="1565.0" cy="1019.2" r="2.45"/><circle cx="1565.0" cy="1028.8" r="2.45"/><circle cx="1565.0" cy="1038.5" r="2.45"/></g>
<text class="tb" x="393.0" y="1146.3" font-size="17" textLength="129.5" lengthAdjust="spacingAndGlyphs">pôvodný stav</text>
<text class="tb" x="1296.5" y="1146.1" font-size="17" textLength="233.0" lengthAdjust="spacingAndGlyphs">odstránené konštrukcie</text>
<text class="tb" x="755.5" y="1268.5" font-size="19.6" textLength="362.0" lengthAdjust="spacingAndGlyphs">AXONOMETRIE_ VÝVOJ HMOTY</text>
</svg>
</body></html>
